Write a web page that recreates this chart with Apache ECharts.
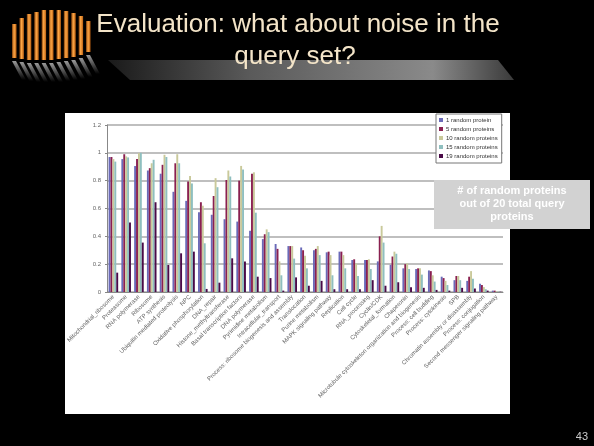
<!DOCTYPE html>
<html>
<head>
<meta charset="UTF-8">
<title>Evaluation</title>
<script src="https://cdn.jsdelivr.net/npm/echarts@6/dist/echarts.min.js"></script>
<style>
  html, body { margin: 0; padding: 0; background: #000; }
</style>
</head>
<body>
<div id="main" style="width:594px;height:446px;"></div>
<script type="text/javascript">
// categories (pathways / complexes)
var cats = ['Mitochondrial_ribosome', 'Proteasome', 'RNA polymerase', 'Ribosome', 'ATP synthesis',
  'Ubiquitin mediated proteolysis', 'NPC', 'Oxidative phosphorylation', 'DNA_repair',
  'Histone_methyltransferase', 'Basal transcription factors', 'DNA polymerase',
  'Pyrimidine metabolism', 'Intracellular_transport', 'Process: ribosome biogenesis and assembly',
  'Translocation', 'Purine metabolism', 'MAPK signaling pathway', 'Replication', 'Cell cycle',
  'RNA_processing', 'Cyclin/CDK', 'Cytoskeletal_formation', 'Chaperonin',
  'Microtubule cytoskeleton organization and biogenesis', 'Process: cell budding',
  'Process: cytokinesis', 'SPB', 'Chromatin assembly or disassembly', 'Process: conjugation',
  'Second messenger signaling pathway'];

var names = ['1 random protein', '5 random proteins', '10 random proteins', '15 random proteins', '19 random proteins'];

var p1  = [0.97, 0.955, 0.905, 0.873, 0.85, 0.72, 0.655, 0.573, 0.555, 0.523, 0.506, 0.44, 0.38, 0.345, 0.33, 0.32, 0.30, 0.285, 0.29, 0.23, 0.23, 0.22, 0.195, 0.17, 0.165, 0.155, 0.11, 0.085, 0.08, 0.06, 0.01];
var p5  = [0.97, 0.99, 0.955, 0.89, 0.914, 0.925, 0.794, 0.645, 0.69, 0.805, 0.80, 0.85, 0.415, 0.31, 0.33, 0.30, 0.31, 0.29, 0.29, 0.235, 0.23, 0.40, 0.255, 0.20, 0.17, 0.15, 0.10, 0.115, 0.11, 0.05, 0.01];
var p10 = [0.955, 0.974, 0.998, 0.925, 0.986, 0.99, 0.834, 0.62, 0.818, 0.873, 0.906, 0.86, 0.45, 0.22, 0.33, 0.26, 0.33, 0.265, 0.265, 0.205, 0.235, 0.475, 0.29, 0.205, 0.17, 0.12, 0.08, 0.115, 0.15, 0.035, 0.005];
var p15 = [0.937, 0.967, 1.0, 0.95, 0.97, 0.925, 0.78, 0.35, 0.753, 0.83, 0.88, 0.57, 0.43, 0.12, 0.24, 0.17, 0.265, 0.12, 0.17, 0.115, 0.165, 0.355, 0.275, 0.165, 0.125, 0.075, 0.05, 0.085, 0.095, 0.02, 0.003];
var p19 = [0.139, 0.50, 0.355, 0.645, 0.194, 0.278, 0.29, 0.022, 0.067, 0.242, 0.22, 0.11, 0.10, 0.01, 0.105, 0.045, 0.08, 0.02, 0.02, 0.02, 0.085, 0.045, 0.07, 0.035, 0.03, 0.015, 0.01, 0.03, 0.025, 0.01, 0.002];

var colors = ['#6a6ab8', '#8a2050', '#c9c99a', '#8fbfbf', '#4a0a48'];

var myChart = echarts.init(document.getElementById('main'), null, { renderer: 'canvas' });

// title decoration: orange bars and their grey reflection
var deco = [];
var tops = [24, 18, 14, 12, 10, 10, 10, 11, 13, 16, 21];
var bots = [58, 59, 60, 60, 60, 60, 59, 58, 57, 55, 52];
for (var i = 0; i < tops.length; i++) {
  var x = 12 + i * 7.4;
  deco.push({
    type: 'rect', shape: { x: x, y: tops[i], width: 4.5, height: bots[i] - tops[i] },
    style: { fill: new echarts.graphic.LinearGradient(0, 0, 1, 0, [
      { offset: 0, color: '#7a3a08' }, { offset: 0.45, color: '#ffa846' }, { offset: 1, color: '#b85f12' }]) },
    z: 1
  });
  deco.push({
    type: 'polygon', shape: { points: [[x, bots[i] + 3], [x + 4, bots[i] + 3], [x + 14, bots[i] + 22], [x + 10, bots[i] + 22]] },
    style: { fill: new echarts.graphic.LinearGradient(0, 0, 0, 1, [
      { offset: 0, color: '#9a9a9a' }, { offset: 1, color: '#000' }]) },
    z: 1
  });
}

option = {
  backgroundColor: '#000',
  animation: false,
  textStyle: { fontFamily: 'Arial, "Liberation Sans", sans-serif' },
  grid: { left: 107, right: 91, top: 125, bottom: 154 },
  legend: {
    data: names,
    orient: 'vertical',
    left: 436, top: 114,
    itemWidth: 4, itemHeight: 4, itemGap: 3,
    icon: 'rect',
    padding: [3, 4, 4, 3],
    backgroundColor: '#fff',
    borderColor: '#777', borderWidth: 1,
    textStyle: { fontSize: 6, color: '#333', padding: [0, 0, 0, -2] }
  },
  xAxis: {
    type: 'category',
    data: cats,
    axisLine: { lineStyle: { color: '#888', width: 1 } },
    axisTick: { length: 3, lineStyle: { color: '#888' } },
    axisLabel: { interval: 0, rotate: 45, fontSize: 6, color: '#666', margin: 4 }
  },
  yAxis: {
    type: 'value',
    min: 0, max: 1.2, interval: 0.2,
    axisLine: { show: true, lineStyle: { color: '#888' } },
    axisTick: { show: true, length: 2, lineStyle: { color: '#888' } },
    axisLabel: { fontSize: 6, color: '#666', margin: 6 },
    splitLine: { lineStyle: { color: '#aaa', width: 1.5 } }
  },
  series: [
    { name: names[0], type: 'bar', data: p1, barGap: '0%', barCategoryGap: '25%', itemStyle: { color: colors[0] } },
    { name: names[1], type: 'bar', data: p5, itemStyle: { color: colors[1] } },
    { name: names[2], type: 'bar', data: p10, itemStyle: { color: colors[2] } },
    { name: names[3], type: 'bar', data: p15, itemStyle: { color: colors[3] } },
    { name: names[4], type: 'bar', data: p19, itemStyle: { color: colors[4] } }
  ],
  graphic: [
    // white chart panel
    { type: 'rect', shape: { x: 65, y: 113, width: 445, height: 301 }, style: { fill: '#fff' }, z: -10 },
    // grey swoosh bar under the title
    { type: 'polygon', shape: { points: [[108, 60], [498, 60], [514, 80], [130, 80]] },
      style: { fill: new echarts.graphic.LinearGradient(0, 0, 1, 0, [
        { offset: 0, color: '#1a1a1a' }, { offset: 0.35, color: '#5a5a5a' },
        { offset: 0.8, color: '#8a8a8a' }, { offset: 1, color: '#3a3a3a' }]) }, z: 1 },
    { type: 'group', children: deco },
    { type: 'text', x: 298, y: 12, style: { text: 'Evaluation: what about noise in the', fill: '#f3e4c8',
      font: '26px Arial, "Liberation Sans", sans-serif', textAlign: 'center' }, z: 5 },
    { type: 'text', x: 295, y: 44, style: { text: 'query set?', fill: '#f3e4c8',
      font: '26px Arial, "Liberation Sans", sans-serif', textAlign: 'center' }, z: 5 },
    // annotation box
    { type: 'rect', shape: { x: 434, y: 180, width: 156, height: 49 }, style: { fill: '#d2d2d2' }, z: 20 },
    { type: 'text', x: 512, y: 184, style: { text: '# of random proteins\nout of 20 total query\nproteins',
      fill: '#fff', font: 'bold 11px Arial, "Liberation Sans", sans-serif', textAlign: 'center', lineHeight: 13 }, z: 21 },
    // slide number
    { type: 'text', x: 588, y: 431, style: { text: '43', fill: '#ccc',
      font: '11px Arial, "Liberation Sans", sans-serif', textAlign: 'right' }, z: 5 }
  ]
};

myChart.setOption(option);
</script>
</body>
</html>
